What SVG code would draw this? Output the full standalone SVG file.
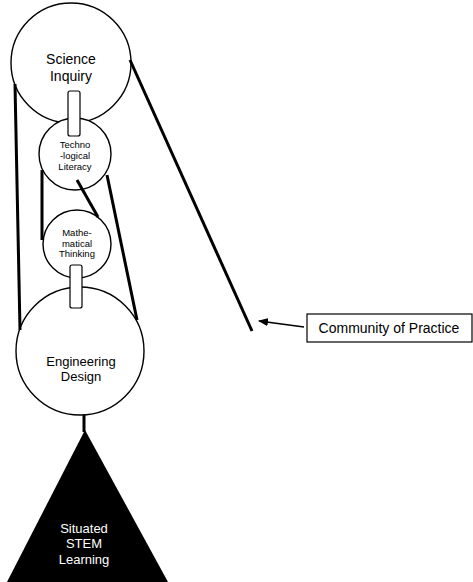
<svg xmlns="http://www.w3.org/2000/svg" width="473" height="582" viewBox="0 0 473 582">
<style>
.c{fill:#fff;stroke:#000;stroke-width:1.4}
.r{fill:#fff;stroke:#000;stroke-width:1.2}
.t{font-family:"Liberation Sans",Arial,sans-serif;fill:#000;text-anchor:middle}
.w{fill:#fff}
.l{stroke:#000;stroke-width:3;fill:none;stroke-linecap:butt}
</style>
<defs>
<marker id="ah" markerWidth="10" markerHeight="8" refX="9" refY="4" orient="auto" markerUnits="userSpaceOnUse">
<path d="M0,0 L10,4 L0,8 Z" fill="#000"/>
</marker>
</defs>
<rect width="473" height="582" fill="#fff"/>
<g id="science-inquiry">
<circle class="c" cx="71" cy="63" r="60"/>
<text class="t" font-size="14" x="71" y="64">Science</text>
<text class="t" font-size="14" x="71" y="81">Inquiry</text>
</g>
<g id="technological-literacy">
<circle class="c" cx="75" cy="154" r="36"/>
<text class="t" font-size="9.5" x="75" y="148">Techno</text>
<text class="t" font-size="9.5" x="75" y="159">-logical</text>
<text class="t" font-size="9.5" x="75" y="170">Literacy</text>
</g>
<g id="mathematical-thinking">
<circle class="c" cx="77" cy="244" r="34"/>
<text class="t" font-size="9.5" x="77" y="236">Mathe-</text>
<text class="t" font-size="9.5" x="77" y="247">matical</text>
<text class="t" font-size="9.5" x="77" y="257">Thinking</text>
</g>
<g id="engineering-design">
<circle class="c" cx="80" cy="351" r="64"/>
<text class="t" font-size="13" x="81" y="366">Engineering</text>
<text class="t" font-size="13" x="81" y="381">Design</text>
</g>
<g id="situated-stem-learning">
<path d="M85,430 L7,582 L168,582 Z" fill="#000"/>
<text class="t w" font-size="13" x="84" y="533">Situated</text>
<text class="t w" font-size="13" x="84" y="548">STEM</text>
<text class="t w" font-size="13" x="84" y="564">Learning</text>
</g>
<g id="link-science-techno">
<rect class="r" x="68" y="91" width="12" height="45" rx="2"/>
</g>
<g id="link-math-engineering">
<rect class="r" x="70" y="265" width="12" height="43" rx="2"/>
</g>
<g id="community-of-practice">
<rect x="307" y="314" width="165" height="28" fill="#fff" stroke="#000" stroke-width="1.2"/>
<text class="t" font-size="14" x="389" y="333">Community of Practice</text>
</g>
<g id="connectors">
<line class="l" x1="15" y1="84" x2="20" y2="330"/>
<line class="l" x1="42" y1="170" x2="42" y2="240"/>
<line class="l" x1="77" y1="180" x2="98" y2="217"/>
<line class="l" x1="107" y1="175" x2="137" y2="320"/>
<line class="l" x1="130" y1="60" x2="252" y2="331"/>
<line x1="84" y1="415" x2="84" y2="432" stroke="#000" stroke-width="3"/>
<line x1="304" y1="327" x2="259" y2="321" stroke="#000" stroke-width="1.6" marker-end="url(#ah)"/>
</g>
</svg>
